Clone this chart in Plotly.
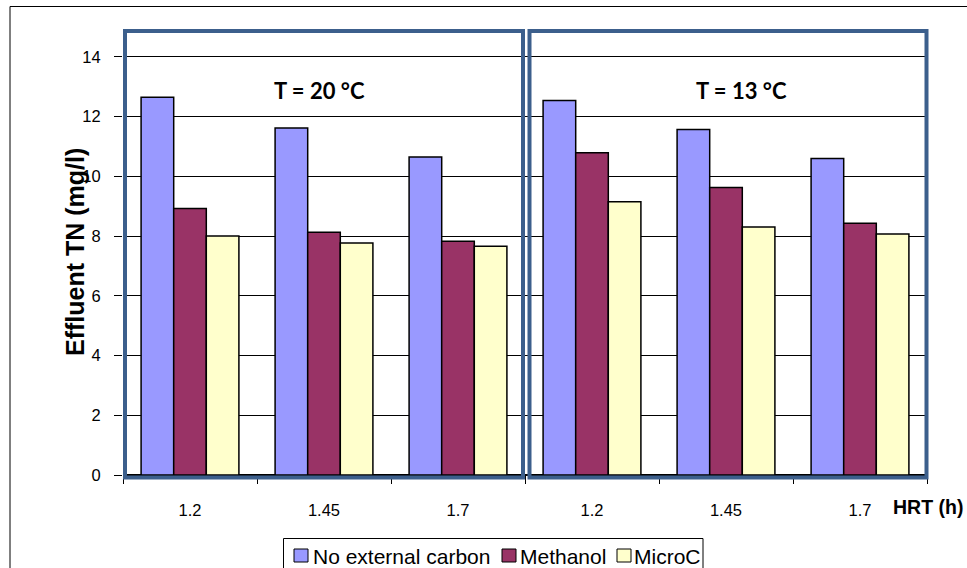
import plotly.graph_objects as go
from plotly.subplots import make_subplots

hrt = ["1.2", "1.45", "1.7"]
series_names = ["No external carbon", "Methanol", "MicroC"]
colors = ["#9999FF", "#993366", "#FFFFCC"]

# T = 20 °C
no_carbon_20 = [12.65, 11.62, 10.65]
methanol_20 = [8.92, 8.13, 7.83]
microc_20 = [8.00, 7.77, 7.66]
# T = 13 °C
no_carbon_13 = [12.54, 11.57, 10.60]
methanol_13 = [10.79, 9.63, 8.43]
microc_13 = [9.15, 8.30, 8.07]

panel_titles = ["T = 20 °C", "T = 13 °C"]
y_ticks = [0, 2, 4, 6, 8, 10, 12, 14]

W, H = 967, 568
L, R, T, B = 123, 40, 30, 93
PW, PH = W - L - R, H - T - B


def px_x(p):
    return (p - L) / PW


def px_y(p):
    return (H - B - p) / PH


fig = make_subplots(rows=1, cols=2, horizontal_spacing=0)

panels = [
    [no_carbon_20, methanol_20, microc_20],
    [no_carbon_13, methanol_13, microc_13],
]
for ci, panel in enumerate(panels):
    for si, vals in enumerate(panel):
        fig.add_trace(
            go.Bar(
                x=hrt, y=vals, name=series_names[si],
                marker=dict(color=colors[si], line=dict(color="black", width=1.5)),
                showlegend=False,
            ),
            row=1, col=ci + 1,
        )

axis_font = dict(family="Arial, Liberation Sans, sans-serif", size=16.5, color="black")
for ci in (1, 2):
    fig.update_xaxes(
        type="category", tickson="boundaries", ticks="outside", ticklen=8,
        tickcolor="black", tickfont=axis_font, showgrid=False, showline=False,
        zeroline=False, ticklabelstandoff=23, row=1, col=ci,
    )
    fig.update_yaxes(
        range=[0, 14.9], tickvals=y_ticks, showgrid=True, gridcolor="black",
        gridwidth=1.2, zeroline=True, zerolinecolor="black", zerolinewidth=1.5,
        showline=False, row=1, col=ci,
        ticks="outside" if ci == 1 else "", ticklen=8, tickcolor="black",
        showticklabels=(ci == 1), tickfont=axis_font, ticklabelstandoff=10,
    )

fig.update_layout(
    width=W, height=H,
    margin=dict(l=L, r=R, t=T, b=B),
    paper_bgcolor="white", plot_bgcolor="white",
    barmode="group", bargap=0.27, bargroupgap=0,
    font=dict(family="Arial, Liberation Sans, sans-serif", color="black"),
    showlegend=False,
)

blue = "#3C5F8C"
shapes = [
    # outer chart border
    dict(type="rect", xref="paper", yref="paper",
         x0=px_x(10), x1=px_x(990), y0=px_y(600), y1=px_y(6.5),
         line=dict(color="black", width=1), fillcolor="rgba(0,0,0,0)", layer="below"),
    # panel boxes
    dict(type="rect", xref="paper", yref="paper",
         x0=px_x(125), x1=px_x(523), y0=px_y(477.5), y1=px_y(31),
         line=dict(color=blue, width=4), fillcolor="rgba(0,0,0,0)"),
    dict(type="rect", xref="paper", yref="paper",
         x0=px_x(529.5), x1=px_x(926.5), y0=px_y(477.5), y1=px_y(31),
         line=dict(color=blue, width=4), fillcolor="rgba(0,0,0,0)"),
    # legend box
    dict(type="rect", xref="paper", yref="paper",
         x0=px_x(283.5), x1=px_x(703), y0=px_y(600), y1=px_y(538.5),
         line=dict(color="black", width=1), fillcolor="white"),
]

# legend keys (drawn by hand to match the compact Excel legend)
legend_key_x = [294, 502, 617]
legend_text_x = [311, 518, 632]
legend_font = dict(family="Arial, Liberation Sans, sans-serif", size=21, color="black")
annotations = []
for i, name in enumerate(series_names):
    shapes.append(dict(
        type="rect", xref="paper", yref="paper",
        x0=px_x(legend_key_x[i]), x1=px_x(legend_key_x[i] + 14),
        y0=px_y(562), y1=px_y(549),
        line=dict(color="black", width=1), fillcolor=colors[i]))
    annotations.append(dict(
        text=name, xref="paper", yref="paper",
        x=px_x(legend_text_x[i]), y=px_y(556), xanchor="left", yanchor="middle",
        showarrow=False, font=legend_font))

fig.update_layout(shapes=shapes)

title_font = dict(family="Lato, Open Sans, sans-serif", size=22, color="black")
annotations += [
    dict(text="<b>" + panel_titles[0] + "</b>", xref="paper", yref="paper",
         x=px_x(319), y=px_y(90), xanchor="center", yanchor="middle",
         showarrow=False, font=title_font),
    dict(text="<b>" + panel_titles[1] + "</b>", xref="paper", yref="paper",
         x=px_x(741), y=px_y(90), xanchor="center", yanchor="middle",
         showarrow=False, font=title_font),
    dict(text="<b>Effluent TN (mg/l)</b>", xref="paper", yref="paper",
         x=px_x(75), y=px_y(252), xanchor="center", yanchor="middle",
         showarrow=False, textangle=-90,
         font=dict(family="Arial, Liberation Sans, sans-serif", size=25, color="black")),
    dict(text="<b>HRT (h)</b>", xref="paper", yref="paper",
         x=px_x(928), y=px_y(507), xanchor="center", yanchor="middle",
         showarrow=False,
         font=dict(family="Arial, Liberation Sans, sans-serif", size=19.5, color="black")),
]
fig.update_layout(annotations=annotations)

fig.write_html("out.html")
